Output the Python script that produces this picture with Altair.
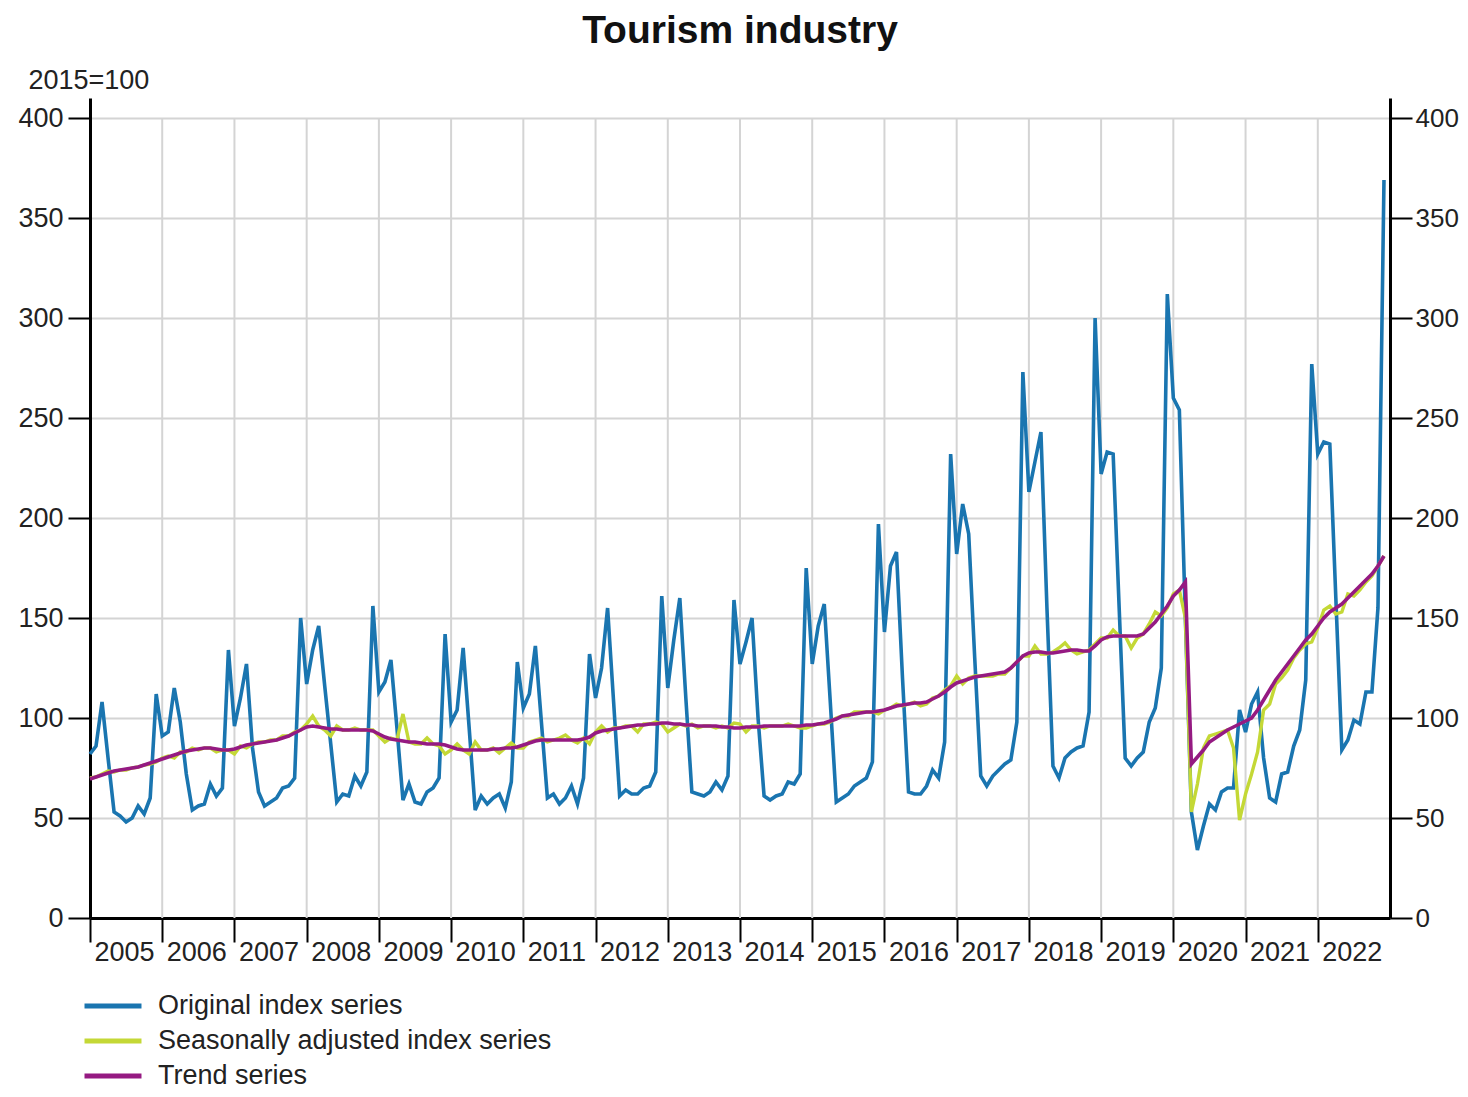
import altair as alt
import pandas as pd

start_year = 2005
end_year = 2023

# Monthly values Jan 2005 .. Dec 2022 (2015=100), one row per year
original_index = [
    82, 86, 108, 80, 53, 51, 48, 50, 56, 52, 60, 112,
    91, 93, 115, 98, 72, 54, 56, 57, 67, 61, 65, 134,
    96, 110, 127, 85, 63, 56, 58, 60, 65, 66, 70, 150,
    117, 134, 146, 116, 87, 58, 62, 61, 71, 66, 73, 156,
    113, 118, 129, 95, 59, 67, 58, 57, 63, 65, 70, 142,
    98, 104, 135, 95, 54, 61, 57, 60, 62, 55, 68, 128,
    105, 112, 136, 98, 60, 62, 57, 60, 66, 57, 70, 132,
    110, 125, 155, 108, 61, 64, 62, 62, 65, 66, 73, 161,
    115, 139, 160, 110, 63, 62, 61, 63, 68, 64, 71, 159,
    127, 138, 150, 100, 61, 59, 61, 62, 68, 67, 72, 175,
    127, 146, 157, 108, 58, 60, 62, 66, 68, 70, 78, 197,
    143, 176, 183, 120, 63, 62, 62, 66, 74, 70, 88, 232,
    182, 207, 192, 130, 71, 66, 71, 74, 77, 79, 98, 273,
    213, 228, 243, 155, 76, 70, 80, 83, 85, 86, 103, 300,
    222, 233, 232, 155, 80, 76, 80, 83, 98, 105, 125, 312,
    260, 254, 150, 53, 34, 46, 57, 54, 63, 65, 65, 104,
    93, 107, 113, 80, 60, 58, 72, 73, 86, 94, 119, 277,
    232, 238, 237, 160, 84, 89, 99, 97, 113, 113, 155, 369,
]

seasonally_adjusted = [
    70, 70.5, 72, 73.5, 73, 74, 74, 75, 75.5, 76.5, 77, 78,
    80, 81, 80, 83, 83, 85, 84, 85, 85, 83, 84, 84,
    82, 86, 85, 87, 88, 88, 89, 89, 91, 91, 93, 94,
    97, 101, 96, 94, 91, 96, 94, 94, 95, 94, 94, 94,
    91, 88, 90, 89, 102, 88, 87, 87, 90, 87, 86, 82,
    84, 87, 84, 82, 88, 84, 84, 85, 82.5, 85, 87.5, 85,
    85, 88, 89, 90, 88, 89, 90, 91.5, 89, 87.5, 90, 87,
    93, 96, 93, 95, 95, 96, 96, 93, 97, 97, 98, 97,
    93, 95, 97, 96, 97, 95, 96, 96, 95, 96, 95, 97.5,
    97, 93, 96, 96, 95, 96, 96, 96, 97, 96, 95, 95,
    96, 97, 97, 98, 100, 101, 101, 103, 103, 103, 103, 102,
    104, 105, 107, 106, 107, 108, 106, 107, 110, 111, 114, 116,
    121, 117, 120, 121, 121, 121, 121, 122, 122, 125, 128, 131,
    131, 136, 132, 132, 133, 135, 137.5, 134, 132, 133, 134, 137,
    140, 140, 144, 141, 141, 135, 140, 142, 147, 153, 151, 155,
    162, 164, 150, 53, 67, 85, 91, 92, 93, 94, 85, 49,
    62, 72, 83, 104, 107, 117, 120, 124, 130, 134, 137, 138,
    145, 154, 156, 152, 153, 162, 161, 164, 168, 171, 176, 181,
]

trend_series = [
    69.5, 70.5, 71.5, 72.5, 73.5, 74, 74.5, 75, 75.5, 76.5, 77.5, 78.5,
    79.5, 80.5, 81.5, 82.5, 83.5, 84, 84.5, 85, 85, 84.5, 84, 84,
    84.5, 85.5, 86.5, 87, 87.5, 88, 88.5, 89, 90, 91, 92.5, 94,
    95.5, 96, 95.5, 95, 94.5, 94.5, 94, 94, 94, 94, 94, 93.5,
    92, 90.5, 89.5, 89, 88.5, 88, 88, 87.5, 87, 87, 87, 86.5,
    85.5, 84.5, 84, 84, 84, 84, 84, 84.5, 84.5, 85, 85, 85.5,
    86.5, 87.5, 88.5, 89, 89, 89, 89, 89, 89, 89, 89.5, 90.5,
    92.5, 93.5, 94, 94.5, 95, 95.5, 96, 96.5, 96.5, 97, 97, 97.5,
    97.5, 97, 97, 96.5, 96.5, 96, 96, 96, 96, 95.5, 95.5, 95,
    95, 95.5, 95.5, 95.5, 96, 96, 96, 96, 96, 96, 96, 96.5,
    96.5, 97, 97.5, 98.5, 99.5, 101, 101.5, 102, 102.5, 103, 103, 103.5,
    104, 105, 106, 106.5, 107, 107.5, 107.5, 108, 109.5, 111, 113, 115.5,
    117.5, 118.5, 119.5, 120.5, 121, 121.5, 122, 122.5, 123, 125, 128, 131,
    132.5, 133, 133, 132.5, 132.5, 133, 133.5, 134, 134, 133.5, 133.5, 136,
    139, 140.5, 141, 141, 141, 141, 141, 142, 145, 148, 152, 156,
    161, 164, 168, 77, 80.5, 84, 88, 90, 92, 94, 95.5, 97,
    98.5, 100, 104, 109, 114, 119, 123, 127, 131, 135, 139, 142,
    146, 150, 153, 155, 157, 160, 163, 166, 169, 172, 176, 181,
]

series_names = ["Original index series", "Seasonally adjusted index series", "Trend series"]
series_colors = ["#1a75b0", "#c4d836", "#951a82"]
year_ticks = list(range(2005, 2023))
grid_years = list(range(2006, 2023))
value_ticks = [0, 50, 100, 150, 200, 250, 300, 350, 400]
y_top = 410

n = len(original_index)
t = [start_year + i / 12 for i in range(n)]
df = pd.DataFrame({
    "t": t * 3,
    "value": original_index + seasonally_adjusted + trend_series,
    "series": [series_names[0]] * n + [series_names[1]] * n + [series_names[2]] * n,
})
grid_df = pd.DataFrame({"t": grid_years, "lo": value_ticks[0], "hi": value_ticks[-1]})
tick_df = pd.DataFrame({"v": value_ticks})

FONT = "Liberation Sans"
TXT = "#222222"

x_scale = alt.Scale(domain=[start_year, end_year], nice=False, zero=False)
y_scale = alt.Scale(domain=[0, y_top], nice=False, zero=True)

x_enc = alt.X(
    "t:Q", scale=x_scale,
    axis=alt.Axis(values=year_ticks, format="d", title=None, grid=False,
                  labelAlign="left", labelBaseline="top", labelOffset=4, labelPadding=-3,
                  labelFlush=False, labelOverlap=False, tickSize=24, tickWidth=2,
                  tickColor="black", domainColor="black", domainWidth=3,
                  labelFontSize=27, labelColor=TXT, labelFont=FONT),
)

left_axis = alt.Axis(
    values=value_ticks, title="2015=100", titleAngle=0, titleAlign="left",
    titleBaseline="middle", titleX=-62, titleY=-18, titleFontSize=27,
    titleFontWeight="normal", titleColor=TXT, titleFont=FONT,
    grid=True, gridColor="#d4d4d4", gridWidth=2, tickSize=22, tickWidth=2,
    tickColor="black", domainColor="black", domainWidth=3, labelPadding=5,
    labelFontSize=27, labelColor=TXT, labelFont=FONT,
)
right_axis = alt.Axis(
    orient="right", values=value_ticks, title=None, grid=False, tickSize=22,
    tickWidth=2, tickColor="black", domainColor="black", domainWidth=3,
    labelPadding=3, labelFontSize=26, labelColor=TXT, labelFont=FONT,
)

color_enc = alt.Color(
    "series:N",
    scale=alt.Scale(domain=series_names, range=series_colors),
    legend=alt.Legend(
        title=None, orient="none", legendX=2, legendY=887, direction="vertical",
        symbolType="M-1.54,0L1.54,0", symbolSize=1369, symbolStrokeWidth=5,
        labelFontSize=27, labelFont=FONT, labelColor=TXT, labelOffset=24,
        rowPadding=1, padding=0, labelLimit=900,
    ),
)

grid = alt.Chart(grid_df).mark_rule(color="#d4d4d4", strokeWidth=2).encode(
    x=x_enc,
    y=alt.Y("lo:Q", scale=y_scale, axis=left_axis),
    y2="hi:Q",
)


def series_layer(name, width):
    return alt.Chart(df).transform_filter(alt.datum.series == name).mark_line(
        strokeWidth=width
    ).encode(
        x=x_enc,
        y=alt.Y("value:Q", scale=y_scale, axis=left_axis),
        color=color_enc,
    )


inner = alt.layer(
    grid,
    series_layer(series_names[0], 3.6),
    series_layer(series_names[1], 3.4),
    series_layer(series_names[2], 3.6),
)

right = alt.Chart(tick_df).mark_point(opacity=0).encode(
    x=alt.value(0),
    y=alt.Y("v:Q", scale=y_scale, axis=right_axis),
)

chart = alt.layer(inner, right).resolve_scale(y="independent").properties(
    width=1300,
    height=820,
    title=alt.TitleParams("Tourism industry", fontSize=39, fontWeight="bold",
                          anchor="middle", color="#111111", font=FONT, offset=15),
    padding={"left": 82, "top": 90, "right": 70, "bottom": 171},
    autosize=alt.AutoSizeParams(type="none"),
).configure(font=FONT).configure_view(stroke=None)

chart.save("out.html", embed_options={"renderer": "svg", "actions": False})
